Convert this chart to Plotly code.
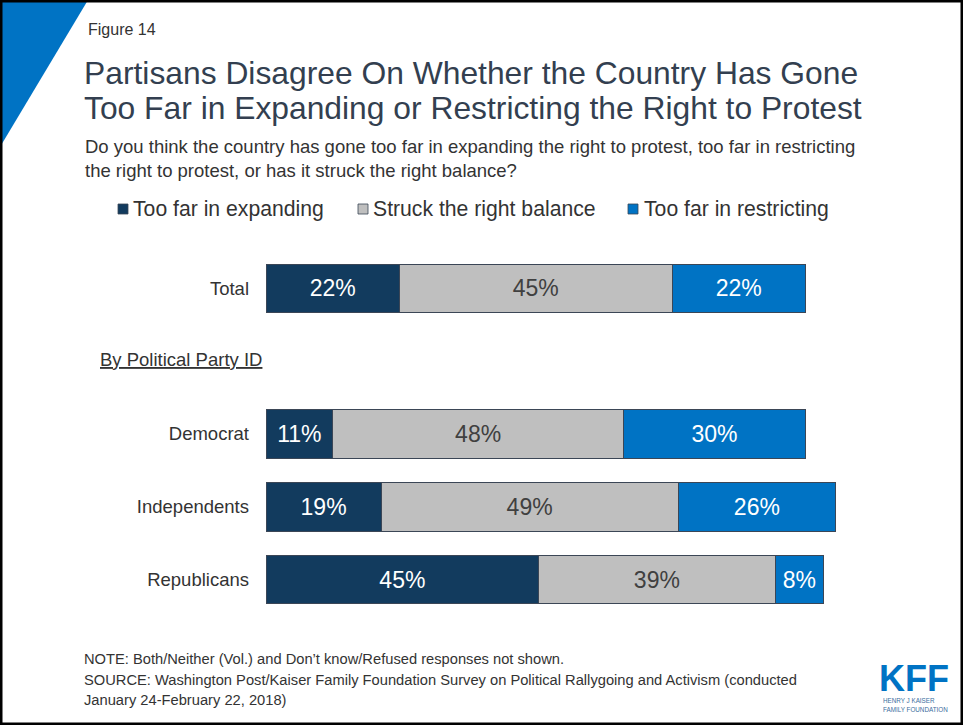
import plotly.graph_objects as go

W, H = 963, 725

categories = ["Total", "spacer", "Democrat", "Independents", "Republicans"]
series_names = ["Too far in expanding", "Struck the right balance", "Too far in restricting"]
expanding = [22, None, 11, 19, 45]
balance = [45, None, 48, 49, 39]
restricting = [22, None, 30, 26, 8]
series_values = [expanding, balance, restricting]
colors = ["#123B5E", "#BFBFBF", "#0073C4"]
text_colors = ["#FFFFFF", "#404040", "#FFFFFF"]
tick_labels = ["Total", "Democrat", "Independents", "Republicans"]

FONT = "Liberation Sans, Arial, sans-serif"
DARK = "#333F50"
TXT = "#333333"


def px(x):
    return x / W


def py(y):
    return 1 - y / H


fig = go.Figure()
for name, vals, col, tcol in zip(series_names, series_values, colors, text_colors):
    fig.add_trace(go.Bar(
        y=categories, x=vals, name=name, orientation="h",
        marker=dict(color=col, line=dict(color="#3B4656", width=1)),
        text=[f"{v}%" if v is not None else "" for v in vals],
        textposition="inside", insidetextanchor="middle",
        textfont=dict(family=FONT, size=23, color=tcol),
        showlegend=False,
    ))

fig.update_layout(
    width=W, height=H,
    margin=dict(l=0, r=0, t=0, b=0),
    paper_bgcolor="white", plot_bgcolor="white",
    barmode="stack", bargap=0.335,
    font=dict(family=FONT, color=TXT),
    xaxis=dict(domain=[px(266), px(872)], range=[0, 100], visible=False, fixedrange=True),
    yaxis=dict(domain=[py(616), py(252)], range=[4.5, -0.5], type="category",
               categoryorder="array", categoryarray=categories,
               tickmode="array", tickvals=tick_labels, ticktext=tick_labels,
               showgrid=False, zeroline=False, showline=False, ticks="",
               ticklabelstandoff=16,
               tickfont=dict(family=FONT, size=18.5, color=TXT)),
)

# frame and corner triangle
fig.add_shape(type="path", xref="paper", yref="paper",
              path=f"M 0 1 L {px(88)} 1 L 0 {py(147)} Z",
              fillcolor="#0073C4", line=dict(width=0), layer="above")
fig.add_shape(type="rect", xref="paper", yref="paper", x0=0, x1=1, y0=0, y1=1,
              line=dict(color="black", width=5), fillcolor="rgba(0,0,0,0)", layer="above")


def note(text, x, y, size, color=TXT, anchor="left", **kw):
    fig.add_annotation(text=text, x=px(x), y=py(y), xref="paper", yref="paper",
                       xanchor=anchor, yanchor="middle", showarrow=False,
                       font=dict(family=FONT, size=size, color=color), **kw)


note("Figure 14", 86, 30, 16)
note("Partisans Disagree On Whether the Country Has Gone", 82, 73, 31.8, DARK)
note("Too Far in Expanding or Restricting the Right to Protest", 82, 108, 31.8, DARK)
note("Do you think the country has gone too far in expanding the right to protest, too far in restricting", 83, 146, 18.5, TXT)
note("the right to protest, or has it struck the right balance?", 83, 170, 18.5, TXT)

# legend
leg_sq = [118, 358, 628]
leg_tx = [131, 371, 642]
for name, col, sx, tx in zip(series_names, colors, leg_sq, leg_tx):
    fig.add_shape(type="rect", xref="paper", yref="paper",
                  x0=px(sx), x1=px(sx + 10), y0=py(214), y1=py(204),
                  fillcolor=col, line=dict(color="#3B4656", width=0.8))
    note(name, tx, 209, 21.2, TXT)

note("<u>By Political Party ID</u>", 98, 359, 18.5, TXT)

note("NOTE: Both/Neither (Vol.) and Don\u2019t know/Refused responses not shown.", 82, 659, 14.7)
note("SOURCE: Washington Post/Kaiser Family Foundation Survey on Political Rallygoing and Activism (conducted", 82, 680, 14.7)
note("January 24-February 22, 2018)", 82, 700, 14.7)

# logo
note("<b>KFF</b>", 877, 678, 36, "#0073C4", height=27)
note("HENRY J KAISER<br>FAMILY FOUNDATION", 881, 705, 6.3, "#3A6E9E", align="left", height=16)

fig.write_html("out.html")
